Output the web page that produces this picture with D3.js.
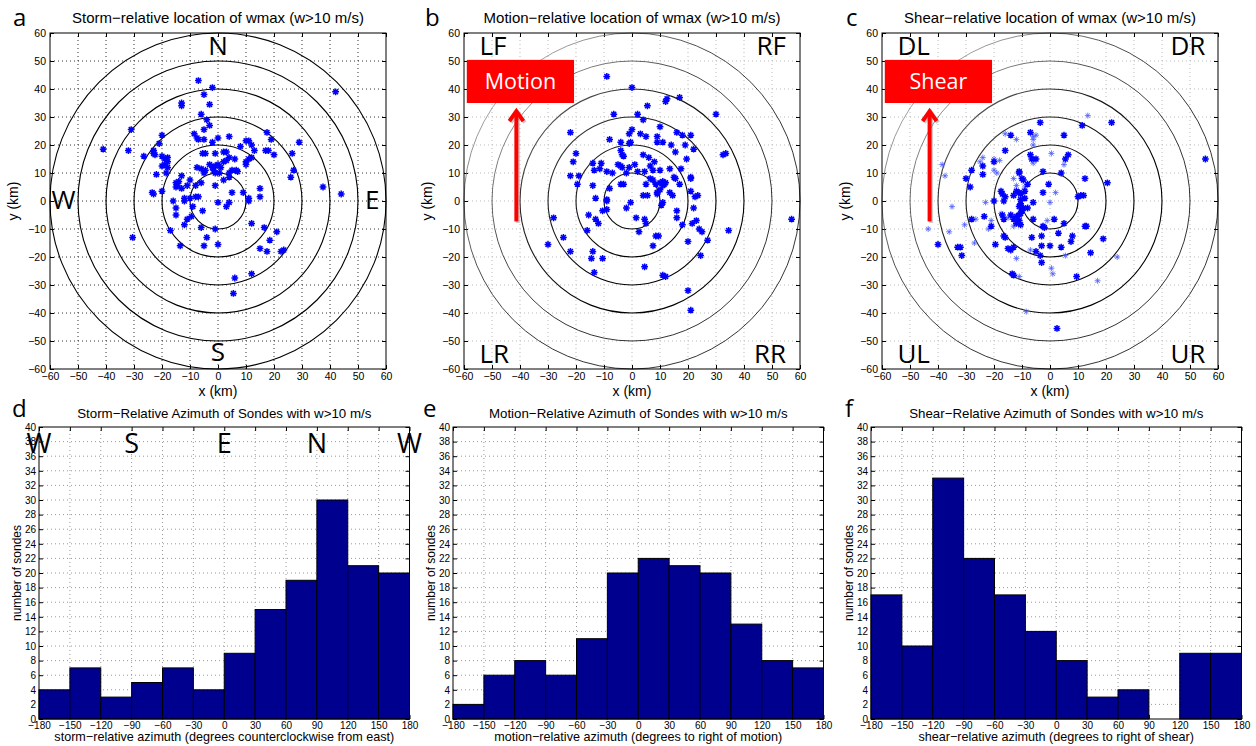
<!DOCTYPE html>
<html>
<head>
<meta charset="utf-8">
<script src="https://cdn.jsdelivr.net/npm/d3@7"></script>
<style>
  body { margin: 0; background: #fff; }
  text { font-family: "Liberation Sans", Arial, Helvetica, sans-serif; }
  .big { font-family: "Open Sans", sans-serif; }
</style>
</head>
<body>
<svg width="1256" height="746"></svg>
<script>
'use strict';

// ---- data ----
const azimuthEdges = d3.range(-180, 180, 30);
const stormCounts  = [4, 7, 3, 5, 7, 4, 9, 15, 19, 30, 21, 20];
const motionCounts = [2, 6, 8, 6, 11, 20, 22, 21, 20, 13, 8, 7];
const shearCounts  = [17, 10, 33, 22, 17, 12, 8, 3, 4, 0, 9, 9];

const kmTicks = d3.range(-60, 61, 10);
const countTicks = d3.range(0, 41, 2);
const azTicks = d3.range(-180, 181, 30);
const ringRadii = [10, 20, 30, 40, 50, 60];

// storm-relative (x, y) km
const stormPts = [
  [42,39],[-7,43],[-2,40.5],[-5,38],[-13,35],[-13,34],[-3,34.5],[-6,31],[-4,29],[-3,27],
  [-31,25.5],[-5,25.5],[-8.5,24],[-7.5,22.5],[-7,22],[-5,22],[-20,23.5],[-21,20.5],[-2,21],[0,22.5],[4,23],
  [-41,18.5],[-32,18],[-26.5,16],[-23,18],[-23,17],[-22.5,16.5],
  [-20,16],[-19,15],[-18,15.5],[-19,13],[-18,14],[-20,12.5],[-18,12],[-22,9.5],[-18.5,10],
  [-5.5,17],[-4.5,17],[-1,17],[2,17.5],[3,17.5],
  [8,19.5],[10,21.5],[11,21.5],[12,20],[13,18],
  [17.5,24.5],[19,22],[17,18],[18,18],[20,16.5],
  [29,21],[26.5,17],[27,11],[26,8.5],[37.5,5],[44,2.5],
  [-7.5,12],[-6,11.5],[-4.5,11],[-5,10],[-3,13],[-2,12],[-1,12.5],[-1.5,11],[0,13],[1,12],[2,14],[3,14.5],
  [4,15.5],[6,15],[5,11],[4,10],[6.5,11],[7,10.5],[10,14],[10,13],[11,15],[12,15.5],
  [0.5,10],[-1,10],[2,7.5],[4,8.5],
  [-13,9],[-10,7.5],[-14,7],[-15,6.5],[-14.5,5.5],[-15,5],[-13,4.5],[-11,5.5],[-8,5.5],[-6,6.5],
  [-20,3.5],[-23.5,3],[-23,2.5],
  [-8,1.5],[-7,1.5],[-10,1],[-12,1],[-12,0],[-16,0],[-15,-2.5],[-15,-5],
  [-5.5,-3.5],[-1,5.5],[5,3],[9,3],[11,1],[11,0],[15,4.5],[15,1.5],
  [0,-0.5],[4,-0.5],[3,-2],
  [-9.5,-5.5],[-11,-6.5],[-12,-8.5],[-9,-2],
  [-6,-9.5],[-1,-10],[12,-8],[16.5,-9.5],[21,-11],
  [-17,-10.5],[-30.5,-13],
  [-4,-13],[-13.5,-16],[-5,-16],[0,-15.5],
  [18.5,-14],[15,-17],[17.5,-18],[22.5,-18],[23.5,-17.5],
  [6,-27.5],[12,-26],[5.5,-33]
];

// motion-relative (x, y) km
const motionPts = [
  [-9,44.5],[0,40.5],[5.5,34],[12,35.5],[12.5,36.5],[17,37],[-6.5,31],[2,31],[30,31],[4,29],
  [-22,24.5],[-8,22],[-1,24],[0,25.5],[3,24],[5,23],[9,23],[10,26.5],[16,24.5],[18,23.5],[21,23.5],
  [-4,21],[-1,20.5],[-0.5,21],[9,21],[11,21],[14,20],[19,20],[22,18.5],
  [-20,17],[-21,14],[-4,18],[-3.5,16.5],[-3,16],[15.5,17.5],[19.5,15],[32.5,16.5],[33.5,17],
  [4,16.5],[6,15.5],[8,14],[6.5,12.5],
  [-14,13.5],[-11,13.5],[-5,13],[-4,12.5],[-3.5,12],[-1,12],[1,13],[-13.5,11],[-11.5,11.5],[-9,10.5],
  [-7,10],[-2,10],[2,10.5],[4.5,10.5],[7.5,11],[10,11],[13.5,11.5],[17.5,11.5],
  [-22,9],[-19,9],[-19.5,6],
  [-14,5.5],[-8,4.5],[-4,6],[-3,6],[5,6],[6.5,8],[7.5,7.5],[8.5,6],[10,6.5],[11,7],[11.5,6],[12,6.5],
  [11,5.5],[15.5,8],[15,8.5],[17,6],[21,8.5],[21,8],
  [-13,1],[-9,0.5],[-9,0],[-0.5,-0.5],[4,2],[5.5,2],[9,3],[10,4],[9,2.5],[13.5,3],[14.5,2],[21,3.5],[22.5,1.5],[23.5,2],
  [-2,-2.5],[-10.5,-3.5],[-9,-3],[-15.5,-5],[-13,-6.5],[-12,-8],[1.5,-6],[4.5,-6.5],[5,-8],[11,-0.5],[10.5,-1.5],
  [16,-3.5],[16,-6],[22,-2.5],[23,-7],[21.5,-8],
  [-28,-6],[-16,-10.5],[2.5,-11],[8.5,-12.5],[9.5,-12.5],[7.5,-16],[18,-8.5],[24,-10],[25,-11],[34.5,-10.5],[57,-6.5],
  [-30,-15.5],[-24.5,-13],[-22,-18],[-14,-18],[-14.5,-20.5],[-10.5,-20.5],[-13.5,-25.5],[4.5,-23.5],[20,-14.5],[27,-14],[24.5,-19.5],
  [11,-26.5],[12,-27],[20,-32],[21,-39]
];

// shear-relative (x, y) km, bold markers
const shearPts = [
  [22,28],[11.5,27],[-3.5,28],[5,23.5],[-14,23.5],[-7,24.5],[-16,18],[6.5,16.5],[5.5,15],[4,10],
  [-20,14],[-7,16.5],[-6.5,15],[-5,15],[-28,11],[-24,12.5],[-24,9.5],[-11,10.5],[-11,10],[-2.5,10.5],
  [-30,8],[-28.5,5],[-10,8],[-9.5,7.5],[-8,6],
  [-17.5,3.5],[-17,2.5],[-12,3.5],[-11,3],[-13,2],[-10.5,2.5],[-9,3.5],[-16,1.5],[-9,1],[-10.5,0.5],
  [-2.5,3],[-0.5,6],[12,2],[11,2],[10,1.5],[12.5,8],[20.5,6.5],
  [-20,0],[-16.5,0],[-10.5,-1],[-11,-2],[-9.5,-2.5],[-6,-0.5],[-8,-2.5],[-10,-3.5],[-10.5,-4.5],[-11,-5],
  [-12,-5.5],[-14,-5],[-17,-5],[-16.5,-6.5],[-6,-6.5],[1.5,-6.5],[5,-8],
  [-28,-6.5],[-23.5,-5.5],[-21,-9],[-13,-6.5],[-12,-8],[-11,-7],[-10.5,-8.5],[-2.5,-9],[-2,-9.5],
  [3,-11.5],[8,-12.5],[12.5,-9],[13,-9],[19,-13.5],
  [-16.5,-12.5],[-16,-13],[-6.5,-13],[-3,-12.5],[7.5,-14.5],[-19.5,-15.5],[-15,-17],[-14,-17.5],[-13,-16.5],
  [-3,-16],[0,-16],[4,-16.5],[-5,-18],[-3.5,-19.5],[-3,-22],[14.5,-18.5],
  [-40,-15.5],[-33,-16.5],[-32,-16.5],[-31.5,-19.5],[-13.5,-26],[-13,-26.5],[9.5,-27],[2.5,-45.5],[55.5,15]
];

// shear-relative (x, y) km, thin markers
const shearThinPts = [
  [13.5,30.5],[-16,24],[-12,22],[-6,23],[-5,23.5],[-6,22],[-6,20],[0.5,17],[5,13],[-24,15.5],[-20,15],
  [-18,14.5],[-25,14],[-6,13.5],[-38.5,13],[-37.5,9],[-20,11],[-19,10],[-12,5.5],[-13,8],[-9,5],[2,3],
  [-23,-0.5],[0,-0.5],[-15,-6],[-17.5,-4.5],[-1,-7],[-35,-2],[-26.5,-6.5],[-21,-7],[-22,-10],[-30.5,-8.5],
  [-36,-11],[-43.5,-10],[-13,-9],[-7,-17.5],[-12,-20.5],[5.5,-19.5],[24,-20],[-27,-15],[-11,-27],
  [0.5,-24],[1,-26],[17,-28.5],[-8.5,-39.5]
];

const svg = d3.select('svg');
const defs = svg.append('defs');
const fmt = d => d3.format('d')(d).replace('-', '\u2212');

// asterisk marker ('*' in matlab): plus + cross
function star(r) {
  const k = r * 0.72;
  return `M${-r},0L${r},0M0,${-r}L0,${r}M${-k},${-k}L${k},${k}M${-k},${k}L${k},${-k}`;
}

function frame(g, x, y, xt, yt, o) {
  const [x0, x1] = x.range(), [y0, y1] = y.range();
  const grid = g.append('g')
    .attr('stroke', o.grid).attr('stroke-width', 1).attr('stroke-dasharray', '1,3');
  grid.selectAll('.gx').data(xt.slice(1, -1)).join('line')
    .attr('x1', d => x(d)).attr('x2', d => x(d)).attr('y1', y0).attr('y2', y1);
  grid.selectAll('.gy').data(yt.slice(1, -1)).join('line')
    .attr('y1', d => y(d)).attr('y2', d => y(d)).attr('x1', x0).attr('x2', x1);

  const ax = (gen, tr, labels) => {
    const a = g.append('g').attr('transform', tr)
      .call(gen.tickSize(-4).tickSizeOuter(0).tickPadding(labels ? o.pad : 0)
        .tickFormat(labels ? fmt : ''));
    a.select('.domain').remove();
    a.selectAll('text').attr('font-size', o.font).attr('fill', '#000');
    a.selectAll('line').attr('stroke', '#000');
  };
  ax(d3.axisBottom(x).tickValues(xt), `translate(0,${y0})`, true);
  ax(d3.axisTop(x).tickValues(xt), `translate(0,${y1})`, false);
  ax(d3.axisLeft(y).tickValues(yt), `translate(${x0},0)`, true);
  ax(d3.axisRight(y).tickValues(yt), `translate(${x1},0)`, false);
}

function outline(g, x, y) {
  const [x0, x1] = x.range(), [y0, y1] = y.range();
  g.append('rect').attr('x', x0).attr('y', y1).attr('width', x1 - x0).attr('height', y0 - y1)
    .attr('fill', 'none').attr('stroke', '#000').attr('stroke-width', 1);
}

// ---------- scatter panels ----------
const scatterPanels = [
  { letter: 'a', lx: 13, left: 50, pts: stormPts, thin: [],
    title: 'Storm\u2212relative location of wmax (w>10 m/s)', grid: '#333', faded: false,
    labels: [
      { t: 'N', x: 0, y: 52, a: 'middle' }, { t: 'S', x: 0, y: -57, a: 'middle' },
      { t: 'W', x: -59.5, y: -3, a: 'start' }, { t: 'E', x: 52.5, y: -3, a: 'start' }
    ] },
  { letter: 'b', lx: 425, left: 464, pts: motionPts, thin: [], box: 'Motion', ax: -41.3,
    title: 'Motion\u2212relative location of wmax (w>10 m/s)', grid: '#bbb', faded: true,
    labels: [
      { t: 'LF', x: -54.5, y: 52, a: 'start' }, { t: 'RF', x: 55, y: 52, a: 'end' },
      { t: 'LR', x: -54.5, y: -58, a: 'start' }, { t: 'RR', x: 55, y: -58, a: 'end' }
    ] },
  { letter: 'c', lx: 846, left: 882, pts: shearPts, thin: shearThinPts, box: 'Shear', ax: -43,
    title: 'Shear\u2212relative location of wmax (w>10 m/s)', grid: '#bbb', faded: true,
    labels: [
      { t: 'DL', x: -54.5, y: 52, a: 'start' }, { t: 'DR', x: 55.5, y: 52, a: 'end' },
      { t: 'UL', x: -54.5, y: -58, a: 'start' }, { t: 'UR', x: 55.5, y: -58, a: 'end' }
    ] }
];

scatterPanels.forEach(p => {
  const g = svg.append('g');
  const x = d3.scaleLinear().domain([-60, 60]).range([p.left, p.left + 336]);
  const y = d3.scaleLinear().domain([-60, 60]).range([369, 33]);
  frame(g, x, y, kmTicks, kmTicks, { grid: p.grid, font: 10.5, pad: 4 });

  // rings fade toward the upper left in b and c
  let ringStroke = '#000';
  if (p.faded) {
    const id = 'fade' + p.letter;
    const lg = defs.append('linearGradient').attr('id', id)
      .attr('gradientUnits', 'userSpaceOnUse')
      .attr('x1', x(-50)).attr('y1', y(50)).attr('x2', x(10)).attr('y2', y(-10));
    lg.append('stop').attr('offset', 0).attr('stop-color', '#aaa');
    lg.append('stop').attr('offset', 0.55).attr('stop-color', '#222');
    lg.append('stop').attr('offset', 1).attr('stop-color', '#000');
    ringStroke = `url(#${id})`;
  }
  g.append('g').selectAll('circle').data(ringRadii).join('circle')
    .attr('cx', x(0)).attr('cy', y(0)).attr('r', d => x(d) - x(0))
    .attr('fill', 'none')
    .attr('stroke', ringStroke)
    .attr('stroke-width', d => p.faded && d >= 50 ? 0.8 : 1.1);

  g.append('g').selectAll('path').data(p.thin).join('path')
    .attr('transform', d => `translate(${x(d[0])},${y(d[1])})`)
    .attr('d', star(3)).attr('stroke', '#4a5cff').attr('stroke-width', 0.8).attr('fill', 'none');
  g.append('g').selectAll('path').data(p.pts).join('path')
    .attr('transform', d => `translate(${x(d[0])},${y(d[1])})`)
    .attr('d', star(3.4)).attr('stroke', '#0000ff').attr('stroke-width', 1.5).attr('fill', 'none');

  outline(g, x, y);

  g.append('g').selectAll('text').data(p.labels).join('text')
    .attr('class', 'big').attr('x', d => x(d.x)).attr('y', d => y(d.y))
    .attr('text-anchor', d => d.a).attr('font-size', 26).text(d => d.t);

  if (p.box) {
    const bx0 = x(-59), bx1 = x(-20.7), by0 = y(50.4), by1 = y(35);
    g.append('rect').attr('x', bx0).attr('y', by0).attr('width', bx1 - bx0).attr('height', by1 - by0)
      .attr('fill', '#ff0000');
    g.append('text').attr('class', 'big').attr('x', (bx0 + bx1) / 2).attr('y', (by0 + by1) / 2 + 7.5)
      .attr('text-anchor', 'middle').attr('fill', '#fff').attr('font-size', 21.5).text(p.box);
    const axp = x(p.ax), tip = y(32.8), tail = y(-7.3);
    [['#999', 1.5, 0.5], ['#ff0000', 0, 1]].forEach(([c, off, op]) => {
      g.append('path')
        .attr('d', `M${axp + off},${tail + off}L${axp + off},${tip + 3 + off}`)
        .attr('stroke', c).attr('stroke-width', 4).attr('opacity', op);
      g.append('path')
        .attr('d', `M${axp - 7 + off},${tip + 12 + off}L${axp + off},${tip + 2 + off}L${axp + 7 + off},${tip + 12 + off}`)
        .attr('stroke', c).attr('stroke-width', 4).attr('fill', 'none').attr('opacity', op)
        .attr('stroke-linejoin', 'miter');
    });
  }

  g.append('text').attr('x', x(0)).attr('y', 23).attr('text-anchor', 'middle')
    .attr('font-size', 15).text(p.title);
  g.append('text').attr('x', x(0)).attr('y', 396).attr('text-anchor', 'middle')
    .attr('font-size', 14).text('x (km)');
  g.append('text').attr('transform', `translate(${p.left - 32},${y(0)}) rotate(-90)`)
    .attr('text-anchor', 'middle').attr('font-size', 14).text('y (km)');
  g.append('text').attr('class', 'big').attr('x', p.lx).attr('y', 26)
    .attr('font-size', 24).text(p.letter);
});

// ---------- histogram panels ----------
const histPanels = [
  { letter: 'd', lx: 12, left: 39, counts: stormCounts,
    title: 'Storm\u2212Relative Azimuth of Sondes with w>10 m/s',
    xlabel: 'storm\u2212relative azimuth (degrees counterclockwise from east)',
    dirs: [['W', -180], ['S', -90], ['E', 0], ['N', 90], ['W', 180]] },
  { letter: 'e', lx: 423, left: 453, counts: motionCounts,
    title: 'Motion\u2212Relative Azimuth of Sondes with w>10 m/s',
    xlabel: 'motion\u2212relative azimuth (degrees to right of motion)', dirs: [] },
  { letter: 'f', lx: 845, left: 871, counts: shearCounts,
    title: 'Shear\u2212Relative Azimuth of Sondes with w>10 m/s',
    xlabel: 'shear\u2212relative azimuth (degrees to right of shear)', dirs: [] }
];

histPanels.forEach(p => {
  const g = svg.append('g');
  const x = d3.scaleLinear().domain([-180, 180]).range([p.left, p.left + 370.5]);
  const y = d3.scaleLinear().domain([0, 40]).range([719, 427]);
  frame(g, x, y, azTicks, countTicks, { grid: '#999', font: 10, pad: 3 });

  g.append('g').selectAll('rect').data(azimuthEdges.map((e, i) => ({ e, c: p.counts[i] })))
    .join('rect')
    .attr('x', d => x(d.e)).attr('width', d => x(d.e + 30) - x(d.e))
    .attr('y', d => y(d.c)).attr('height', d => y(0) - y(d.c))
    .attr('fill', '#00008f').attr('stroke', '#000').attr('stroke-width', 1);

  outline(g, x, y);

  g.append('g').selectAll('text').data(p.dirs).join('text')
    .attr('class', 'big').attr('x', d => x(d[1])).attr('y', y(36.4))
    .attr('text-anchor', 'middle').attr('font-size', 27).text(d => d[0]);

  g.append('text').attr('x', x(0)).attr('y', 418).attr('text-anchor', 'middle')
    .attr('font-size', 13.3).text(p.title);
  g.append('text').attr('x', x(0)).attr('y', 741).attr('text-anchor', 'middle')
    .attr('font-size', 12.6).text(p.xlabel);
  g.append('text').attr('transform', `translate(${p.left - 18},${y(20)}) rotate(-90)`)
    .attr('text-anchor', 'middle').attr('font-size', 12).text('number of sondes');
  g.append('text').attr('class', 'big').attr('x', p.lx).attr('y', 417)
    .attr('font-size', 24).text(p.letter);
});
</script>
</body>
</html>
